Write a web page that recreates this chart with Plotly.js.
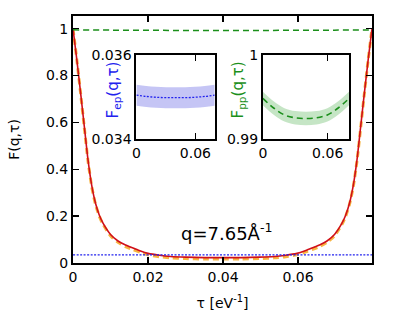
<!DOCTYPE html>
<html>
<head>
<meta charset="utf-8">
<script src="https://cdn.plot.ly/plotly-3.0.1.min.js"></script>
<style>
html,body{margin:0;padding:0;background:#fff;}
#plot{width:399px;height:330px;}
</style>
</head>
<body>
<div id="plot"></div>
<script>
// imaginary time grid (eV^-1)
const tau = [0, 0.001, 0.002, 0.003, 0.004, 0.005, 0.006, 0.007, 0.008, 0.010, 0.012, 0.014, 0.016, 0.018, 0.020, 0.023, 0.026, 0.030, 0.035, 0.0399,
             0.0448, 0.0497, 0.0537, 0.0567, 0.0597, 0.0617, 0.0637, 0.0657, 0.0677, 0.0697, 0.0717, 0.0727, 0.0737, 0.0747, 0.0757, 0.0767, 0.0777, 0.0787, 0.0797];
// total F(q,tau) (red solid)
const F_total = [1.0, 0.87, 0.73, 0.585, 0.44, 0.33, 0.255, 0.205, 0.17, 0.122, 0.094, 0.077, 0.064, 0.051, 0.041, 0.033, 0.028, 0.025, 0.023, 0.023,
                 0.023, 0.025, 0.028, 0.033, 0.041, 0.051, 0.064, 0.077, 0.094, 0.122, 0.17, 0.205, 0.255, 0.33, 0.44, 0.585, 0.73, 0.87, 1.0];
// approximation (orange dashed)
const F_approx = [1.0, 0.87, 0.728, 0.58, 0.435, 0.325, 0.25, 0.2, 0.165, 0.116, 0.088, 0.07, 0.057, 0.045, 0.035, 0.027, 0.022, 0.019, 0.017, 0.017,
                  0.017, 0.019, 0.022, 0.027, 0.035, 0.045, 0.057, 0.07, 0.088, 0.116, 0.165, 0.2, 0.25, 0.325, 0.435, 0.58, 0.728, 0.87, 1.0];
// coarse grid for the flat components
const tauC = [0, 0.01, 0.02, 0.03, 0.0399, 0.0497, 0.0597, 0.0697, 0.0797];
// electron-proton F_ep (blue dotted) and its band half-width
const F_ep = [0.03505, 0.03502, 0.03500, 0.03499, 0.03499, 0.03499, 0.03500, 0.03502, 0.03505];
const F_ep_err = [0.00025, 0.00025, 0.00025, 0.00025, 0.00025, 0.00025, 0.00025, 0.00025, 0.00025];
// proton-proton F_pp (green dashed) and its band half-width
const F_pp = [0.99486, 0.99372, 0.99290, 0.99255, 0.99247, 0.99255, 0.99290, 0.99372, 0.99486];
const F_pp_err = [0.0008, 0.0008, 0.0008, 0.0008, 0.0008, 0.0008, 0.0008, 0.0008, 0.0008];

const xTicks = [0, 0.02, 0.04, 0.06];
const xTickText = ['0', '0.02', '0.04', '0.06'];
const yTicks = [0, 0.2, 0.4, 0.6, 0.8, 1];
const yTickText = ['0', '0.2', '0.4', '0.6', '0.8', '1'];

const RED = '#d0101a', ORANGE = '#f7b441', GREEN = '#1b8f1b', BLUE = '#2222ee';
const FONT = 'DejaVu Sans, sans-serif';

const upper = (v, e) => v.map((a, i) => a + e[i]);
const lower = (v, e) => v.map((a, i) => a - e[i]);

const traces = [
  // main plot
  {x: tau, y: F_approx, mode: 'lines', line: {color: ORANGE, width: 3, dash: '6px,4px', shape: 'spline', smoothing: 0.6}, xaxis: 'x', yaxis: 'y'},
  {x: tau, y: F_total, mode: 'lines', line: {color: RED, width: 1.6, shape: 'spline', smoothing: 0.6}, xaxis: 'x', yaxis: 'y'},
  {x: tauC, y: F_pp, mode: 'lines', line: {color: GREEN, width: 1.5, dash: '6px,4px', shape: 'spline'}, xaxis: 'x', yaxis: 'y'},
  {x: tauC, y: F_ep, mode: 'lines', line: {color: BLUE, width: 1.3, dash: '2px,1.5px', shape: 'spline'}, xaxis: 'x', yaxis: 'y'},
  // inset 1: F_ep
  {x: tauC, y: lower(F_ep, F_ep_err), mode: 'lines', line: {width: 0, shape: 'spline'}, xaxis: 'x2', yaxis: 'y2'},
  {x: tauC, y: upper(F_ep, F_ep_err), mode: 'lines', line: {width: 0, shape: 'spline'}, fill: 'tonexty', fillcolor: 'rgba(110,110,230,0.4)', xaxis: 'x2', yaxis: 'y2'},
  {x: tauC, y: F_ep, mode: 'lines', line: {color: BLUE, width: 1.3, dash: '2px,1.5px', shape: 'spline'}, xaxis: 'x2', yaxis: 'y2'},
  // inset 2: F_pp
  {x: tauC, y: lower(F_pp, F_pp_err), mode: 'lines', line: {width: 0, shape: 'spline'}, xaxis: 'x3', yaxis: 'y3'},
  {x: tauC, y: upper(F_pp, F_pp_err), mode: 'lines', line: {width: 0, shape: 'spline'}, fill: 'tonexty', fillcolor: 'rgba(110,190,110,0.4)', xaxis: 'x3', yaxis: 'y3'},
  {x: tauC, y: F_pp, mode: 'lines', line: {color: GREEN, width: 1.6, dash: '6px,4px', shape: 'spline'}, xaxis: 'x3', yaxis: 'y3'}
];

const axBase = {
  showline: true, linecolor: '#000', linewidth: 2, mirror: 'ticks',
  ticks: 'inside', ticklen: 6, tickwidth: 1.5, tickcolor: '#000',
  showgrid: false, zeroline: false, tickfont: {family: FONT, size: 14, color: '#000'}
};

const layout = {
  width: 399, height: 330,
  margin: {l: 72.5, r: 27, t: 16, b: 67.3},
  paper_bgcolor: '#fff', plot_bgcolor: '#fff',
  showlegend: false,
  font: {family: FONT, size: 14, color: '#000'},
  xaxis: Object.assign({}, axBase, {
    domain: [0, 1], range: [0, 0.0797], tickvals: xTicks, ticktext: xTickText,
    title: {text: 'τ [eV<sup>-1</sup>]', font: {family: FONT, size: 14}, standoff: 14}
  }),
  yaxis: Object.assign({}, axBase, {
    domain: [0, 1], range: [0, 1.054], tickvals: yTicks, ticktext: yTickText,
    title: {text: 'F(q,τ)', font: {family: FONT, size: 14}, standoff: 23}
  }),
  xaxis2: Object.assign({}, axBase, {
    domain: [0.212, 0.474], range: [0, 0.0797], anchor: 'y2',
    tickvals: [0, 0.06], ticktext: ['0', '0.06']
  }),
  yaxis2: Object.assign({}, axBase, {
    domain: [0.501, 0.841], range: [0.034, 0.036], anchor: 'x2', ticklen: 0,
    tickvals: [0.034, 0.036], ticktext: ['0.034', '0.036']
  }),
  xaxis3: Object.assign({}, axBase, {
    domain: [0.635, 0.923], range: [0, 0.0797], anchor: 'y3',
    tickvals: [0, 0.06], ticktext: ['0', '0.06']
  }),
  yaxis3: Object.assign({}, axBase, {
    domain: [0.501, 0.841], range: [0.99, 1.0], anchor: 'x3', ticklen: 0,
    tickvals: [0.99, 1.0], ticktext: ['0.99', '1']
  }),
  annotations: [
    {xref: 'x', yref: 'y', x: 0.0408, y: 0.131, showarrow: false,
     text: 'q=7.65Å<sup>-1</sup>', font: {family: FONT, size: 18, color: '#000'}},
    {xref: 'paper', yref: 'paper', x: 0.135, y: 0.70, xanchor: 'center', yanchor: 'middle', showarrow: false, textangle: -90,
     text: 'F<sub>ep</sub>(q,τ)', font: {family: FONT, size: 15, color: BLUE}},
    {xref: 'paper', yref: 'paper', x: 0.553, y: 0.70, xanchor: 'center', yanchor: 'middle', showarrow: false, textangle: -90,
     text: 'F<sub>pp</sub>(q,τ)', font: {family: FONT, size: 15, color: GREEN}}
  ]
};

Plotly.newPlot('plot', traces, layout, {staticPlot: true, displayModeBar: false});
</script>
</body>
</html>
